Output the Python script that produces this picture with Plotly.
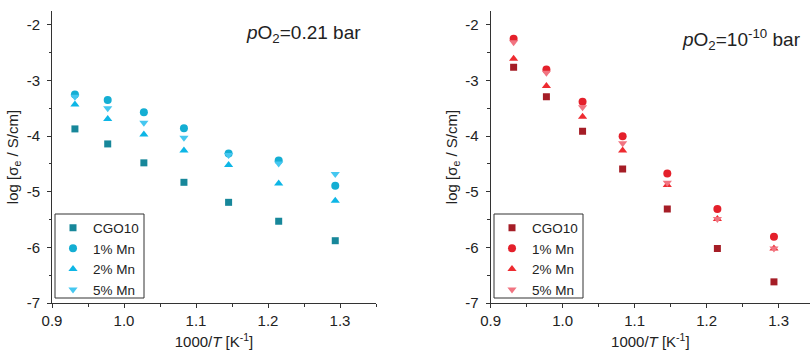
import plotly.graph_objects as go

# 1000/T for 800, 750, ..., 500 °C
temps_c = [800, 750, 700, 650, 600, 550, 500]
inv_t = [1000.0 / (t + 273.15) for t in temps_c]

series_names = ["CGO10", "1% Mn", "2% Mn", "5% Mn"]
series_symbols = ["square", "circle", "triangle-up", "triangle-down"]
series_sizes = [7, 8, 8, 8]

# log sigma_e at pO2 = 0.21 bar
air_cgo10 = [-3.87, -4.14, -4.48, -4.83, -5.19, -5.53, -5.88]
air_mn1 = [-3.25, -3.35, -3.57, -3.86, -4.31, -4.44, -4.89]
air_mn2 = [-3.43, -3.69, -3.97, -4.26, -4.52, -4.85, -5.16]
air_mn5 = [-3.29, -3.50, -3.76, -4.03, -4.34, -4.49, -4.68]

# log sigma_e at pO2 = 1e-10 bar
red_cgo10 = [-2.76, -3.29, -3.91, -4.59, -5.31, -6.02, -6.62]
red_mn1 = [-2.25, -2.80, -3.38, -4.00, -4.67, -5.31, -5.81]
red_mn2 = [-2.61, -3.10, -3.65, -4.26, -4.88, -5.49, -6.02]
red_mn5 = [-2.31, -2.86, -3.48, -4.13, -4.84, -5.49, -6.02]

air_colors = ["#17879a", "#14aed3", "#0db6e6", "#45c7f0"]
red_colors = ["#a51d26", "#e4202b", "#ee2b30", "#f17481"]

x_tickvals = [0.9, 1.0, 1.1, 1.2, 1.3]
x_ticktext = ["0.9", "1.0", "1.1", "1.2", "1.3"]
y_tickvals = [-7, -6, -5, -4, -3, -2]
y_ticktext = ["-7", "-6", "-5", "-4", "-3", "-2"]

FONT = "Liberation Sans, Arial, sans-serif"
AXC = "#333333"
TXT = "#222222"
W, H = 810, 354

fig = go.Figure()

air_sets = [air_cgo10, air_mn1, air_mn2, air_mn5]
red_sets = [red_cgo10, red_mn1, red_mn2, red_mn5]

for name, sym, sz, col, ys in zip(series_names, series_symbols, series_sizes, air_colors, air_sets):
    fig.add_trace(go.Scatter(
        x=inv_t, y=ys, mode="markers", name=name,
        marker=dict(symbol=sym, size=sz, color=col),
        xaxis="x", yaxis="y", legend="legend"))

for name, sym, sz, col, ys in zip(series_names, series_symbols, series_sizes, red_colors, red_sets):
    fig.add_trace(go.Scatter(
        x=inv_t, y=ys, mode="markers", name=name,
        marker=dict(symbol=sym, size=sz, color=col),
        xaxis="x2", yaxis="y2", legend="legend2"))

# panel geometry (pixels)
y_bot, y_top = 303, 11
ydom = [(H - y_bot) / H, (H - y_top) / H]
left_dom = [52 / W, 376 / W]
right_dom = [490.7 / W, 1.0]
px_per_unit = 720.0
x_range_left = [0.9, 0.9 + (376 - 52) / px_per_unit]
x_range_right = [0.9, 0.9 + (W - 490.7) / px_per_unit]
y_range = [-7, -1.75]

tickfont = dict(family=FONT, size=15, color=TXT)

def x_axis(domain, rng, anchor):
    return dict(
        domain=domain, range=rng, anchor=anchor, automargin=False,
        showgrid=False, zeroline=False,
        showline=True, linecolor=AXC, linewidth=1,
        ticks="outside", ticklen=4, tickcolor=AXC,
        tickvals=x_tickvals, ticktext=x_ticktext, tickfont=tickfont,
        minor=dict(ticks="outside", ticklen=2.5, tickcolor=AXC, dtick=0.05, tick0=0.9),
        title=dict(text="1000/<i>T</i> [K<sup>-1</sup>]",
                   font=dict(family=FONT, size=15, color=TXT), standoff=8),
    )

def y_axis(domain, anchor):
    return dict(
        domain=domain, range=y_range, anchor=anchor, automargin=False,
        showgrid=False, zeroline=False,
        showline=True, linecolor=AXC, linewidth=1,
        ticks="outside", ticklen=4, tickcolor=AXC, ticklabelstandoff=4,
        tickvals=y_tickvals, ticktext=y_ticktext, tickfont=tickfont,
        minor=dict(ticks="outside", ticklen=2.5, tickcolor=AXC, dtick=0.5, tick0=-7),
        title=dict(text="log [σ<sub>e</sub> / S/cm]",
                   font=dict(family=FONT, size=15, color=TXT), standoff=4),
    )

def top_axis(overlay, anchor, rng):
    return dict(
        overlaying=overlay, side="top", anchor=anchor, range=rng, automargin=False,
        showgrid=False, zeroline=False, showticklabels=False,
        showline=True, linecolor=AXC, linewidth=1,
        ticks="inside", ticklen=4, tickcolor=AXC, tickvals=x_tickvals,
        minor=dict(ticks="inside", ticklen=2.5, tickcolor=AXC, dtick=0.05, tick0=0.9),
    )

def right_axis(overlay, anchor):
    return dict(
        overlaying=overlay, side="right", anchor=anchor, range=y_range, automargin=False,
        showgrid=False, zeroline=False, showticklabels=False,
        showline=True, linecolor=AXC, linewidth=1,
        ticks="inside", ticklen=4, tickcolor=AXC, tickvals=y_tickvals,
        minor=dict(ticks="inside", ticklen=2.5, tickcolor=AXC, dtick=0.5, tick0=-7),
    )

legend_common = dict(
    font=dict(family=FONT, size=13.5, color=TXT),
    bgcolor="rgba(0,0,0,0)", borderwidth=0,
    xanchor="left", yanchor="top", itemwidth=30,
    tracegroupgap=0,
)

# legend frames (pixel boxes)
leg_boxes = [(55, 214, 144, 298), (494, 214, 583, 298)]
shapes = [
    dict(type="rect", xref="paper", yref="paper",
         x0=x0 / W, x1=x1 / W, y0=(H - y1) / H, y1=(H - y0) / H,
         line=dict(color="#333333", width=1), fillcolor="white", layer="above")
    for (x0, y0, x1, y1) in leg_boxes
]

fig.update_layout(
    width=W, height=H,
    margin=dict(l=0, r=0, t=0, b=0, autoexpand=False),
    paper_bgcolor="white", plot_bgcolor="white",
    font=dict(family=FONT, size=15, color=TXT),
    xaxis=x_axis(left_dom, x_range_left, "y"),
    yaxis=y_axis(ydom, "x"),
    xaxis2=x_axis(right_dom, x_range_right, "y2"),
    yaxis2=y_axis(ydom, "x2"),
    xaxis3=top_axis("x", "y", x_range_left),
    yaxis3=right_axis("y", "x"),
    xaxis4=top_axis("x2", "y2", x_range_right),
    legend=dict(**legend_common, x=53 / W, y=(H - 212.5) / H),
    legend2=dict(**legend_common, x=492 / W, y=(H - 212.5) / H),
    shapes=shapes,
    annotations=[
        dict(text="<i>p</i>O<sub>2</sub>=0.21 bar", xref="paper", yref="paper",
             x=363 / W, y=(H - 34) / H, xanchor="right", yanchor="middle",
             showarrow=False, font=dict(family=FONT, size=19, color=TXT)),
        dict(text="<i>p</i>O<sub>2</sub>=10<sup>-10</sup> bar", xref="paper", yref="paper",
             x=803 / W, y=(H - 39) / H, xanchor="right", yanchor="middle",
             showarrow=False, font=dict(family=FONT, size=19, color=TXT)),
    ],
)

fig.write_html("out.html")
